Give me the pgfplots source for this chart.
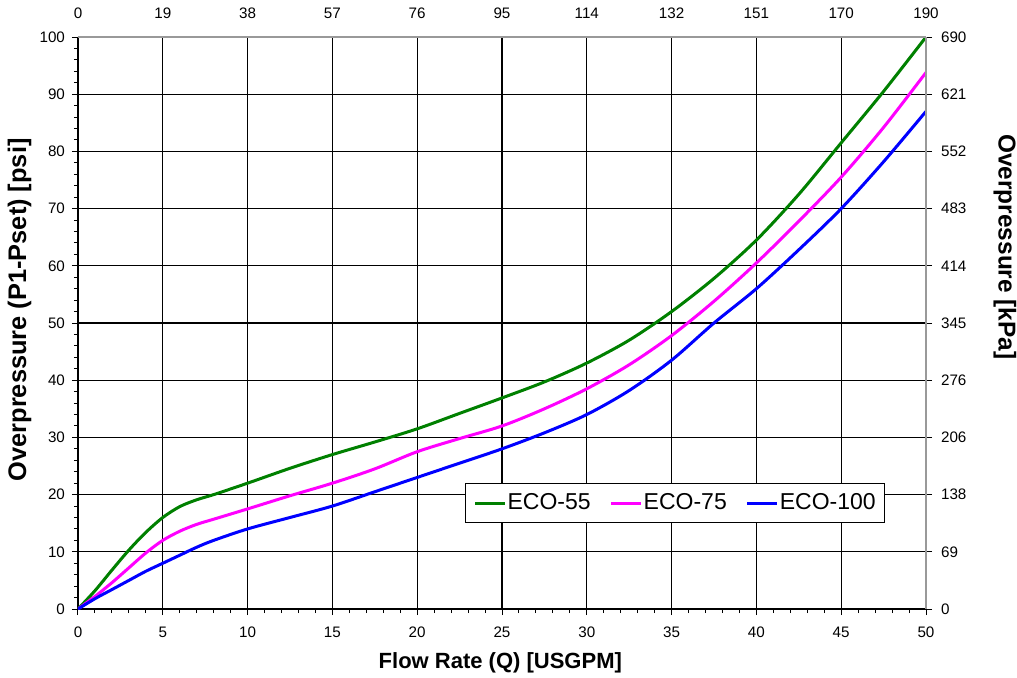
\documentclass[border=0pt]{standalone}
\usepackage{pgfplots}
\pgfplotsset{compat=1.18}
\usepackage{fontspec}
\setmainfont{Liberation Sans}

\definecolor{ecogreen}{RGB}{0,128,0}
\definecolor{ecomag}{RGB}{255,0,255}
\definecolor{ecoblue}{RGB}{0,0,255}

\begin{document}
\begin{tikzpicture}
\pgfplotsset{
  every axis/.append style={
    width=424pt, height=286pt, scale only axis,
    xmin=0, xmax=50, ymin=0, ymax=100,
    /pgf/number format/assume math mode=true,
    tick label style={font=\fontsize{7.6}{8}\selectfont},
  }
}
\begin{axis}[
  axis x line*=bottom, axis y line*=left,
  axis line style={black, line width=0.6pt},
  xtick={0,5,...,50}, ytick={0,10,...,100},
  minor x tick num=4, minor y tick num=4,
  tick align=outside,
  major tick length=3pt, minor tick length=2pt,
  tick style={black, line width=0.5pt},
  grid=major,
  major grid style={black, line width=0.6pt},
  xticklabel style={yshift=-2.5pt},
  xlabel={Flow Rate (Q) [USGPM]},
  ylabel={Overpressure (P1-Pset) [psi]},
  xlabel style={at={(axis description cs:0.498,-0.094)}, anchor=center,
    font=\fontsize{11}{13}\selectfont\bfseries},
  ylabel style={at={(axis description cs:-0.069,0.523)}, anchor=center,
    font=\fontsize{12.7}{14}\selectfont\bfseries},
  legend columns=3,
  legend style={at={(axis cs:47.6,22)}, anchor=north east,
    draw=black, line width=0.6pt, fill=white,
    font=\fontsize{11.5}{13}\selectfont,
    inner xsep=4pt, inner ysep=3pt,
    nodes={inner xsep=0.5pt},
    /tikz/every even column/.append style={column sep=9pt}},
  legend image code/.code={\draw[#1, line width=1.5pt] (0cm,0cm) -- (15pt,0cm);},
]
\addplot[ecogreen, line width=1.5pt, smooth] coordinates {
 (0,0) (1,3.2) (2,6.8) (3,10.3) (4,13.4) (5,16) (6,17.9) (7,19.1) (8,20)
 (10,22) (12.5,24.6) (15,27) (17.5,29.2) (20,31.5) (22.5,34.2) (25,36.9)
 (27.5,39.7) (30,43) (32.5,47) (35,52) (37.5,57.8) (40,64.5) (42.5,72.5)
 (45,81.5) (47.5,90.5) (50,100)};
\addlegendentry{ECO-55}
\addplot[ecomag, line width=1.5pt, smooth] coordinates {
 (0,0) (1,2.2) (2,4.6) (3,7.2) (4,9.8) (5,12) (6,13.6) (7,14.8) (8,15.7)
 (10,17.5) (12.5,19.8) (15,22) (17.5,24.5) (20,27.5) (22.5,29.8) (25,32)
 (27.5,35) (30,38.5) (32.5,42.7) (35,47.8) (37.5,53.8) (40,60.5) (42.5,67.8)
 (45,75.5) (47.5,84.2) (50,93.8)};
\addlegendentry{ECO-75}
\addplot[ecoblue, line width=1.5pt, smooth] coordinates {
 (0,0) (1,1.8) (2,3.4) (3,5) (4,6.6) (5,8) (6,9.4) (7,10.8) (8,12)
 (10,14) (12.5,16) (15,18) (17.5,20.5) (20,23) (22.5,25.5) (25,28)
 (27.5,30.8) (30,34) (32.5,38.2) (35,43.5) (37.5,50) (40,56) (42.5,62.8)
 (45,70) (47.5,78.2) (50,87)};
\addlegendentry{ECO-100}
\end{axis}

\begin{axis}[
  axis x line*=top, axis y line*=right,
  axis line style={gray!80, line width=0.8pt},
  xtick={0,5,...,50},
  xticklabels={0,19,38,57,76,95,114,132,151,170,190},
  ytick={0,10,...,100},
  yticklabels={0,69,138,206,276,345,414,483,552,621,690},
  tick align=outside,
  major tick length=3pt,
  xtick style={draw=none},
  ytick style={black, line width=0.5pt},
  xticklabel style={yshift=2.5pt},
  yticklabel style={xshift=1pt},
  ylabel={Overpressure [kPa]},
  ylabel style={at={(axis description cs:1.093,0.633)}, anchor=center, rotate=180,
    font=\fontsize{12.2}{14}\selectfont\bfseries},
]
\end{axis}
\pgfresetboundingbox
\path ([shift={(-39pt,-34pt)}]current axis.south west) rectangle ([shift={(45.5pt,18.5pt)}]current axis.north east);
\end{tikzpicture}
\end{document}
